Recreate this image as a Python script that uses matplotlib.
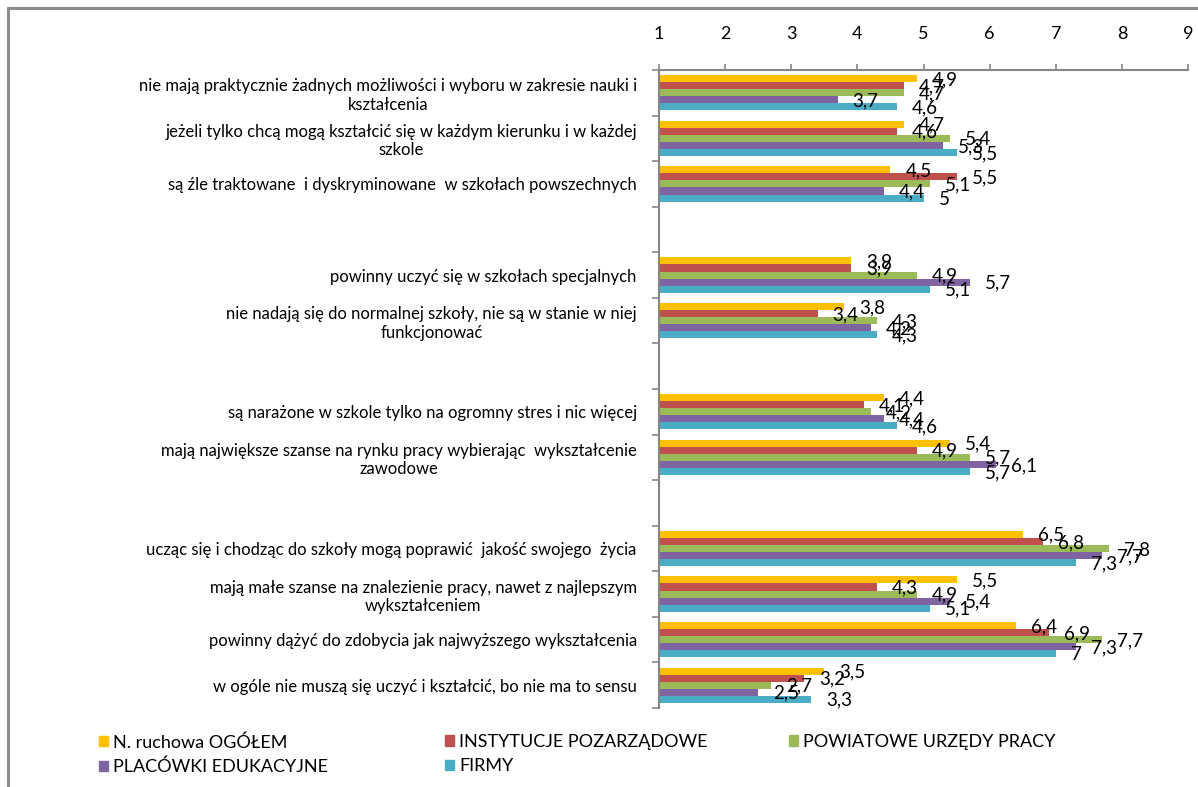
import matplotlib
matplotlib.use("Agg")
import matplotlib.pyplot as plt
from matplotlib.patches import Rectangle
import numpy as np

plt.rcParams['font.family'] = ['Lato', 'DejaVu Sans']

categories = [
    "nie mają praktycznie żadnych możliwości i wyboru w zakresie nauki i\nkształcenia",
    "jeżeli tylko chcą mogą kształcić się w każdym kierunku i w każdej\nszkole",
    "są źle traktowane  i dyskryminowane  w szkołach powszechnych",
    "powinny uczyć się w szkołach specjalnych",
    "nie nadają się do normalnej szkoły, nie są w stanie w niej\nfunkcjonować",
    "są narażone w szkole tylko na ogromny stres i nic więcej",
    "mają największe szanse na rynku pracy wybierając  wykształcenie\nzawodowe",
    "ucząc się i chodząc do szkoły mogą poprawić  jakość swojego  życia",
    "mają małe szanse na znalezienie pracy, nawet z najlepszym\nwykształceniem",
    "powinny dążyć do zdobycia jak najwyższego wykształcenia",
    "w ogóle nie muszą się uczyć i kształcić, bo nie ma to sensu",
]
group_sizes = [3, 2, 2, 4]

series_names = ["N. ruchowa OGÓŁEM", "INSTYTUCJE POZARZĄDOWE", "POWIATOWE URZĘDY PRACY",
                "PLACÓWKI EDUKACYJNE", "FIRMY"]
ogolem     = [4.9, 4.7, 4.5, 3.9, 3.8, 4.4, 5.4, 6.5, 5.5, 6.4, 3.5]
instytucje = [4.7, 4.6, 5.5, 3.9, 3.4, 4.1, 4.9, 6.8, 4.3, 6.9, 3.2]
powiatowe  = [4.7, 5.4, 5.1, 4.9, 4.3, 4.2, 5.7, 7.8, 4.9, 7.7, 2.7]
placowki   = [3.7, 5.3, 4.4, 5.7, 4.2, 4.4, 6.1, 7.7, 5.4, 7.3, 2.5]
firmy      = [4.6, 5.5, 5.0, 5.1, 4.3, 4.6, 5.7, 7.3, 5.1, 7.0, 3.3]
x_ticks = [1, 2, 3, 4, 5, 6, 7, 8, 9]

series = [ogolem, instytucje, powiatowe, placowki, firmy]
colors = ["#FFC000", "#C0504D", "#9BBB59", "#8064A2", "#4BACC6"]

# row positions with blank rows between groups
positions = []
r = 0
for gi, g in enumerate(group_sizes):
    for _ in range(g):
        positions.append(r)
        r += 1
    if gi < len(group_sizes) - 1:
        r += 1
n_rows = r
positions = np.array(positions, dtype=float)

W, H = 1198, 787
fig = plt.figure(figsize=(W / 100, H / 100), dpi=100)
ax = fig.add_axes([659 / W, 1 - 708 / H, (1188 - 659) / W, (708 - 70) / H])

h = 0.155
start = -2.5 * h
for k, (vals, col) in enumerate(zip(series, colors)):
    ys = positions + start + h * (k + 0.5)
    ax.barh(ys, np.array(vals) - 1, left=1, height=h, color=col, edgecolor='none')
    for y, v in zip(ys, vals):
        txt = f"{v:g}".replace('.', ',')
        ax.annotate(txt, (v, y), xytext=(15, -1), textcoords='offset pixels',
                    ha='left', va='center', fontsize=13.5, color='black')

ax.set_xlim(1, 9)
ax.set_ylim(n_rows - 0.5, -0.5)
ax.xaxis.tick_top()
ax.set_xticks(x_ticks)
ax.set_xticklabels([str(t) for t in x_ticks])
ax.tick_params(axis='x', which='major', direction='out', length=4, width=1.2,
               color='#868686', labelsize=13, pad=16)

ax.set_yticks(positions)
ax.set_yticklabels(categories, fontsize=12, multialignment='center')
ax.set_yticks(np.arange(-0.5, n_rows, 1.0), minor=True)
ax.tick_params(axis='y', which='major', length=0, pad=16)
ax.tick_params(axis='y', which='minor', length=5, width=1.2, color='#868686')

for s in ['right', 'bottom']:
    ax.spines[s].set_visible(False)
for s in ['top', 'left']:
    ax.spines[s].set_color('#868686')
    ax.spines[s].set_linewidth(1.5)

# outer chart border
fig.add_artist(Rectangle((8 / W, -0.2), 1.5, 1 - 8 / H + 0.2, transform=fig.transFigure,
                         fill=False, edgecolor='#8c8c8c', lw=2.2))

# legend in three columns
handles = [Rectangle((0, 0), 1, 1, color=c) for c in colors]
cols = [([0, 3], 99), ([1, 4], 445), ([2], 789)]
for idxs, xp in cols:
    fig.legend([handles[i] for i in idxs], [series_names[i] for i in idxs],
               loc='upper left', bbox_to_anchor=(xp / W, 1 - 734 / H),
               frameon=False, fontsize=13, handlelength=0.5, handleheight=0.5,
               handletextpad=0.3, labelspacing=0.45, borderpad=0, borderaxespad=0)

fig.savefig('out.png', dpi=100)
